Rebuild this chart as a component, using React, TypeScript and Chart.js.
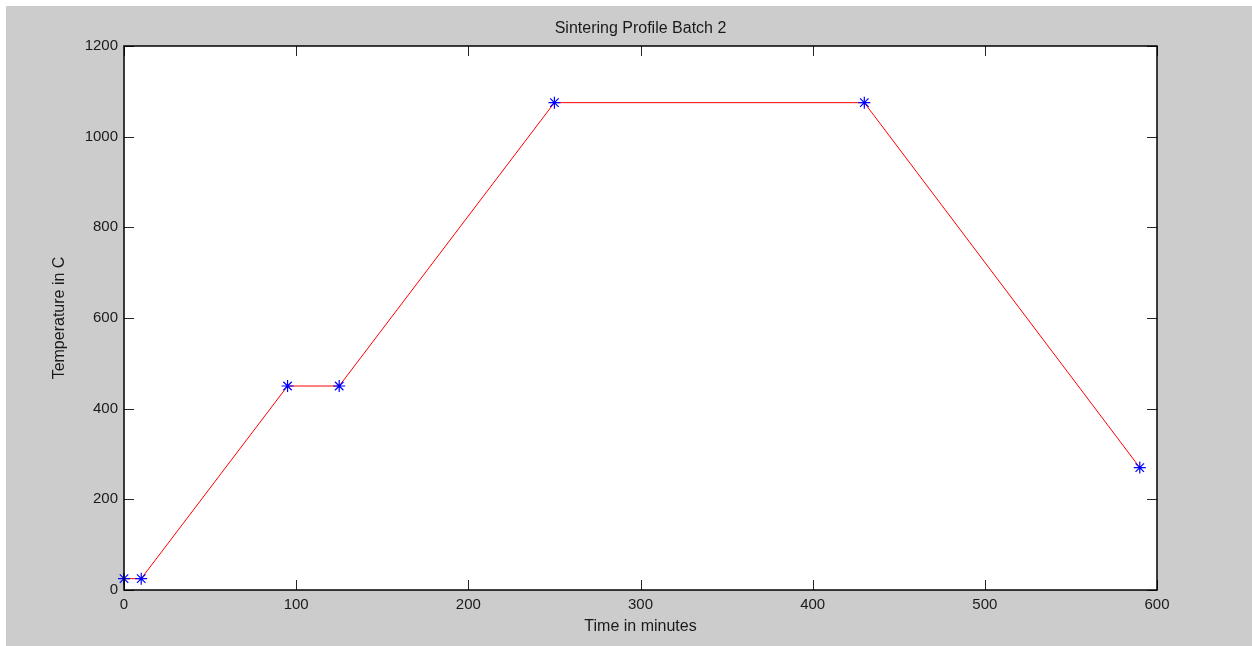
import React, { useEffect, useRef } from "react";
import { Chart, registerables } from "chart.js";

Chart.register(...registerables);

const timeMinutes = [0, 10, 95, 125, 250, 430, 590];
const temperatureC = [25, 25, 450, 450, 1075, 1075, 270];
const xTicks = [0, 100, 200, 300, 400, 500, 600];
const yTicks = [0, 200, 400, 600, 800, 1000, 1200];
const titleText = "Sintering Profile Batch 2";
const xLabel = "Time in minutes";
const yLabel = "Temperature in C";

const FONT = "'Liberation Sans', Arial, sans-serif";

const matlabPlugin = {
  id: "matlabAxes",
  beforeDraw(chart: any) {
    const { ctx, chartArea } = chart;
    ctx.save();
    ctx.fillStyle = "#ffffff";
    ctx.fillRect(chartArea.left, chartArea.top, chartArea.right - chartArea.left, chartArea.bottom - chartArea.top);
    ctx.restore();
  },
  afterDraw(chart: any) {
    const { ctx, chartArea, scales } = chart;
    const { left, right, top, bottom } = chartArea;
    const tl = 10;
    ctx.save();
    ctx.strokeStyle = "#262626";
    ctx.lineWidth = 1;
    ctx.beginPath();
    for (const v of xTicks) {
      const x = Math.round(scales.x.getPixelForValue(v)) + 0.5;
      ctx.moveTo(x, bottom);
      ctx.lineTo(x, bottom - tl);
      ctx.moveTo(x, top);
      ctx.lineTo(x, top + tl);
    }
    for (const v of yTicks) {
      const y = Math.round(scales.y.getPixelForValue(v)) + 0.5;
      ctx.moveTo(left, y);
      ctx.lineTo(left + tl, y);
      ctx.moveTo(right, y);
      ctx.lineTo(right - tl, y);
    }
    ctx.stroke();
    ctx.strokeStyle = "#000000";
    ctx.lineWidth = 1.5;
    ctx.strokeRect(left, top, right - left, bottom - top);

    ctx.fillStyle = "#1a1a1a";
    ctx.font = `16px ${FONT}`;
    ctx.textAlign = "center";
    ctx.textBaseline = "middle";
    const cx = (left + right) / 2;
    ctx.fillText(titleText, cx, top - 17);
    ctx.fillText(xLabel, cx, bottom + 37);
    ctx.translate(left - 64, (top + bottom) / 2);
    ctx.rotate(-Math.PI / 2);
    ctx.fillText(yLabel, 0, 0);
    ctx.restore();
  },
};

export default function App() {
  const ref = useRef<HTMLCanvasElement>(null);
  useEffect(() => {
    if (!ref.current) return;
    const chart = new Chart(ref.current, {
      type: "line",
      data: {
        datasets: [
          {
            data: timeMinutes.map((t, i) => ({ x: t, y: temperatureC[i] })),
            borderColor: "#ff0000",
            borderWidth: 1,
            pointStyle: "star",
            pointRadius: 6,
            pointBorderColor: "#0000ff",
            pointBackgroundColor: "#0000ff",
            pointBorderWidth: 1.2,
            tension: 0,
            clip: false as any,
          },
        ],
      },
      options: {
        animation: false,
        responsive: false,
        maintainAspectRatio: false,
        layout: { padding: { left: 0, top: 40, right: 95, bottom: 0 } },
        plugins: {
          legend: { display: false },
          tooltip: { enabled: false },
          title: { display: false },
        },
        scales: {
          x: {
            type: "linear",
            min: 0,
            max: 600,
            afterFit: (s: any) => {
              s.height = 56;
            },
            afterBuildTicks: (s: any) => {
              s.ticks = xTicks.map((v) => ({ value: v }));
            },
            grid: { display: false, drawTicks: false },
            border: { display: false },
            ticks: {
              color: "#1a1a1a",
              font: { family: FONT, size: 15 },
              padding: 6,
              maxRotation: 0,
              callback: (v: any) => String(v),
            },
          },
          y: {
            type: "linear",
            min: 0,
            max: 1200,
            afterFit: (s: any) => {
              s.width = 118;
            },
            afterBuildTicks: (s: any) => {
              s.ticks = yTicks.map((v) => ({ value: v }));
            },
            grid: { display: false, drawTicks: false },
            border: { display: false },
            ticks: {
              color: "#1a1a1a",
              font: { family: FONT, size: 15 },
              padding: 6,
              callback: (v: any) => String(v),
            },
          },
        },
      },
      plugins: [matlabPlugin],
    });
    return () => chart.destroy();
  }, []);

  return (
    <div style={{ position: "fixed", left: 0, top: 0, width: 1252, height: 646, background: "#ffffff" }}>
      <div style={{ position: "absolute", left: 6, top: 6, width: 1246, height: 640, background: "#cccccc" }}>
        <canvas ref={ref} width={1246} height={640} style={{ display: "block", width: 1246, height: 640 }} />
      </div>
    </div>
  );
}
